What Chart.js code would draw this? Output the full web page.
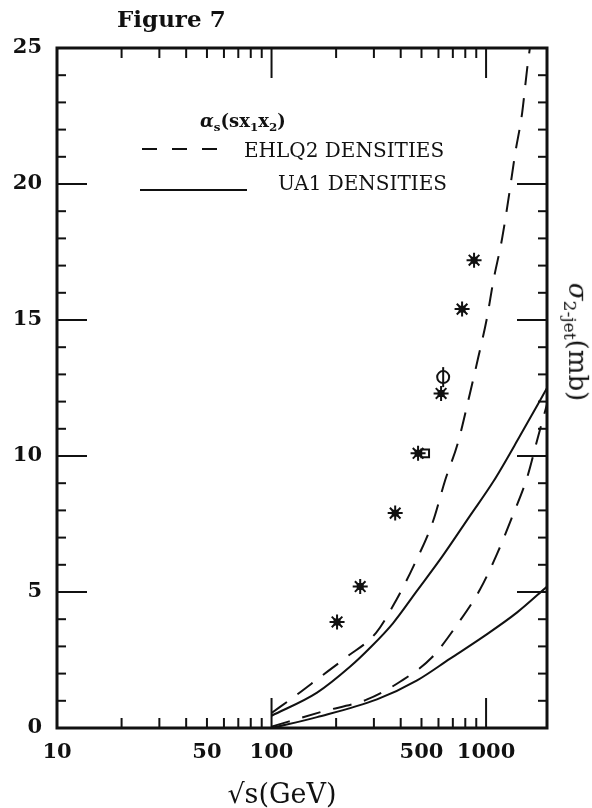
<!DOCTYPE html>
<html>
<head>
<meta charset="utf-8">
<script src="https://cdn.jsdelivr.net/npm/chart.js@4.4.1/dist/chart.umd.min.js"></script>
<style>
  body { margin: 0; background: #fff; }
  #wrap { position: relative; width: 592px; height: 808px; font-family: 'DejaVu Serif', serif; color: #111; }
  #wrap canvas { position: absolute; left: 0; top: 0; }
  .lbl { position: absolute; white-space: nowrap; line-height: 1; }
  sub { font-size: 0.66em; vertical-align: -0.3em; }
</style>
</head>
<body>
<div id="wrap">
  <canvas id="chart" width="592" height="808"></canvas>
  <div class="lbl" style="left:117px; top:7px; font-size:23px; font-weight:bold;">Figure 7</div>
  <div class="lbl" style="left:200px; top:112px; font-size:18px; font-weight:bold;"><i>α</i><sub>s</sub>(sx<sub>1</sub>x<sub>2</sub>)</div>
  <div class="lbl" style="left:244px; top:140px; font-size:20px;">EHLQ2 DENSITIES</div>
  <div class="lbl" style="right:145px; top:173px; font-size:20px;">UA1 DENSITIES</div>
  <div class="lbl" style="left:576px; top:342px; font-size:26px; transform: translate(-50%, -50%) rotate(90deg);"><i>σ</i><sub>2-jet</sub>(mb)</div>
  <div class="lbl" style="left:282px; top:793px; font-size:27px; transform: translate(-50%, -50%);">√s(GeV)</div>
</div>
<script>
// EHLQ2 densities (dashed)
const ehlqUpperX = [100, 130, 167, 223, 307, 381, 462, 566, 644, 740, 841, 918, 1011, 1079, 1188, 1280, 1365, 1472, 1552, 1600];
const ehlqUpperY = [0.55, 1.2, 1.85, 2.6, 3.5, 4.7, 6.0, 7.6, 9.1, 10.5, 12.3, 13.6, 15.1, 16.4, 18.0, 19.6, 21.1, 22.6, 24.2, 25.0];
const ehlqLowerX = [100, 172, 279, 397, 560, 733, 938, 1125, 1321, 1552, 1746, 1923];
const ehlqLowerY = [0.05, 0.6, 1.05, 1.7, 2.6, 3.8, 5.1, 6.4, 7.75, 9.2, 10.7, 11.9];

// UA1 densities (solid)
const ua1UpperX = [100, 163, 232, 288, 368, 477, 624, 841, 1079, 1442, 1923];
const ua1UpperY = [0.45, 1.3, 2.25, 2.95, 3.85, 5.05, 6.3, 7.8, 9.05, 10.75, 12.5];
const ua1LowerX = [100, 163, 310, 477, 680, 968, 1396, 1923];
const ua1LowerY = [0, 0.4, 1.05, 1.75, 2.55, 3.35, 4.25, 5.2];

// measured points
const starX = [202, 259, 377, 482, 617, 773, 879];
const starY = [3.9, 5.2, 7.9, 10.1, 12.3, 15.4, 17.2];
const circleX = [631];
const circleY = [12.9];
const boxX = [520];
const boxY = [10.1];

const xLabelVals = [10, 50, 100, 500, 1000];
const xMinorTicks = [20, 30, 40, 50, 60, 70, 80, 90, 200, 300, 400, 500, 600, 700, 800, 900];
const xMajorTicks = [100, 1000];

const ink = '#111';

function pts(xs, ys) {
  return xs.map((x, i) => ({ x: x, y: ys[i] }));
}

function curve(xs, ys, dashed) {
  return {
    data: pts(xs, ys),
    showLine: true,
    borderColor: ink,
    borderWidth: 2,
    borderDash: dashed ? [19, 13] : [],
    pointRadius: 0,
    cubicInterpolationMode: 'monotone',
  };
}

function marks(xs, ys, style, radius, rotation) {
  return {
    data: pts(xs, ys),
    showLine: false,
    pointStyle: style,
    pointRadius: radius,
    pointRotation: rotation || 0,
    borderColor: ink,
    backgroundColor: 'rgba(0,0,0,0)',
    pointBorderWidth: 2,
  };
}

function strokeLine(ctx, x1, y1, x2, y2) {
  ctx.beginPath();
  ctx.moveTo(x1, y1);
  ctx.lineTo(x2, y2);
  ctx.stroke();
}

// frame, inward ticks and legend samples
const frameTicks = {
  id: 'frameTicks',
  afterDatasetsDraw(chart) {
    const { ctx, chartArea: a } = chart;
    const x = chart.scales.x;
    const y = chart.scales.y;
    ctx.save();
    ctx.strokeStyle = ink;
    ctx.lineWidth = 2;
    for (let v = 1; v < 25; v++) {
      const py = y.getPixelForValue(v);
      const len = v % 5 === 0 ? 30 : 9;
      strokeLine(ctx, a.left, py, a.left + len, py);
      strokeLine(ctx, a.right, py, a.right - len, py);
    }
    xMinorTicks.concat(xMajorTicks).forEach((v) => {
      const px = x.getPixelForValue(v);
      const len = xMajorTicks.includes(v) ? 30 : 10;
      strokeLine(ctx, px, a.bottom, px, a.bottom - len);
      strokeLine(ctx, px, a.top, px, a.top + len);
    });
    ctx.lineWidth = 3;
    ctx.strokeRect(a.left, a.top, a.right - a.left, a.bottom - a.top);

    ctx.lineWidth = 2;
    ctx.setLineDash([15, 15]);
    strokeLine(ctx, 142, 149, 218, 149);
    ctx.setLineDash([]);
    strokeLine(ctx, 140, 190, 247, 190);
    ctx.restore();
  },
};

const tickFont = { family: 'DejaVu Serif', size: 21, weight: 'bold' };

new Chart(document.getElementById('chart'), {
  type: 'scatter',
  data: {
    datasets: [
      curve(ehlqUpperX, ehlqUpperY, true),
      curve(ehlqLowerX, ehlqLowerY, true),
      curve(ua1UpperX, ua1UpperY, false),
      curve(ua1LowerX, ua1LowerY, false),
      marks(starX, starY, 'star', 7.5),
      marks(starX, starY, 'rect', 3.5),
      marks(circleX, circleY, 'circle', 6),
      marks(circleX, circleY, 'line', 10, 90),
      marks(boxX, boxY, 'rect', 5.5),
    ],
  },
  options: {
    responsive: false,
    devicePixelRatio: 1,
    animation: false,
    layout: { padding: { top: 48, left: 0, right: 0, bottom: 0 } },
    plugins: { legend: { display: false }, tooltip: { enabled: false } },
    scales: {
      x: {
        type: 'logarithmic',
        position: 'bottom',
        min: 10,
        max: 1923,
        afterBuildTicks(s) {
          s.ticks = xLabelVals.map((v) => ({ value: v }));
        },
        afterFit(s) {
          s.height = 80;
        },
        ticks: {
          autoSkip: false,
          maxRotation: 0,
          minRotation: 0,
          padding: 12,
          color: ink,
          font: tickFont,
          callback: (v) => String(v),
        },
        grid: { display: false, drawTicks: false },
        border: { display: false },
      },
      y: {
        position: 'left',
        min: 0,
        max: 25,
        afterFit(s) {
          s.width = 57;
        },
        ticks: {
          stepSize: 5,
          padding: 15,
          color: ink,
          font: tickFont,
        },
        grid: { display: false, drawTicks: false },
        border: { display: false },
      },
      yRight: {
        position: 'right',
        min: 0,
        max: 25,
        afterFit(s) {
          s.width = 45;
        },
        ticks: { display: false },
        grid: { display: false, drawTicks: false },
        border: { display: false },
      },
    },
  },
  plugins: [frameTicks],
});
</script>
</body>
</html>
